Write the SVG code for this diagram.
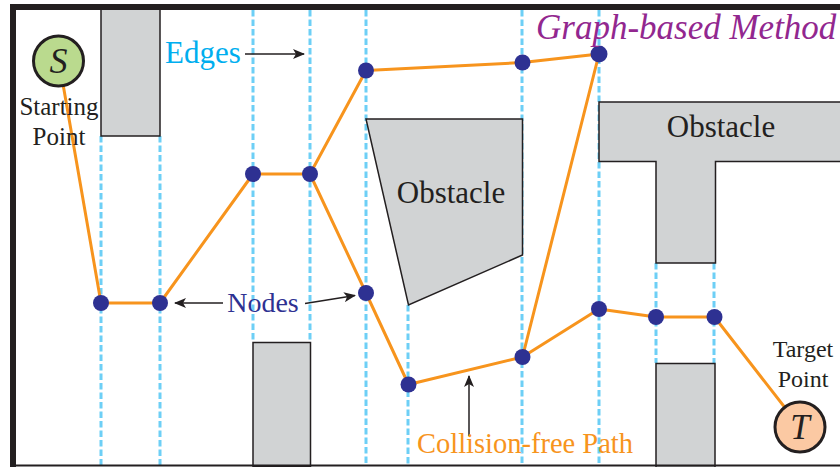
<svg xmlns="http://www.w3.org/2000/svg" width="840" height="467" viewBox="0 0 840 467">
<style>
.grid{stroke:#6dcff6;stroke-width:3;stroke-dasharray:6.5 3;fill:none}
.obs{fill:#d1d3d4;stroke:#231f20;stroke-width:1.5}
.path{stroke:#f7941d;stroke-width:3;fill:none;stroke-linejoin:round}
.node{fill:#2e3192}
.arr{stroke:#231f20;stroke-width:1.5;fill:none}
.serif{font-family:"Liberation Serif","Times New Roman",serif}
.lbl{font-family:"Liberation Serif","Times New Roman",serif;fill:#231f20}
</style>
<defs>
<marker id="ah" viewBox="0 0 12 10" refX="11" refY="5" markerWidth="12" markerHeight="10" markerUnits="userSpaceOnUse" orient="auto">
<path d="M0,0 L12,5 L0,10 L3,5 Z" fill="#231f20"/>
</marker>
</defs>
<rect width="840" height="467" fill="#fff"/>
<g id="grid-lines">
<line class="grid" x1="101" y1="136" x2="101" y2="465"/>
<line class="grid" x1="160" y1="136" x2="160" y2="465"/>
<line class="grid" x1="253" y1="10" x2="253" y2="342"/>
<line class="grid" x1="310" y1="10" x2="310" y2="342"/>
<line class="grid" x1="366" y1="10" x2="366" y2="465"/>
<line class="grid" x1="408" y1="305" x2="408" y2="465"/>
<line class="grid" x1="522" y1="10" x2="522" y2="465"/>
<line class="grid" x1="599" y1="10" x2="599" y2="465"/>
<line class="grid" x1="656" y1="263" x2="656" y2="363"/>
<line class="grid" x1="714" y1="263" x2="714" y2="363"/>
</g>
<g id="obstacle-1"><rect class="obs" x="101" y="8" width="59" height="128"/></g>
<g id="obstacle-2"><rect class="obs" x="253" y="342.5" width="57.5" height="124"/></g>
<g id="obstacle-3">
<polygon class="obs" points="366,119 522.5,119 522.5,255 408.5,305"/>
<text class="lbl" x="451" y="203" font-size="31" text-anchor="middle">Obstacle</text>
</g>
<g id="obstacle-4">
<polygon class="obs" points="599,102 845,102 845,161.5 715.5,161.5 715.5,263 656,263 656,161.5 599,161.5"/>
<text class="lbl" x="721" y="137" font-size="31" text-anchor="middle">Obstacle</text>
</g>
<g id="obstacle-5"><rect class="obs" x="656" y="363.5" width="59" height="104"/></g>
<g id="frame">
<rect x="10" y="4" width="830" height="6" fill="#231f20"/>
<rect x="10" y="4" width="6" height="463" fill="#231f20"/>
<line x1="10" y1="465.5" x2="840" y2="465.5" stroke="#231f20" stroke-width="2"/>
</g>
<g id="connectors">
<polyline class="path" points="59,61 101,303 160,303 253,174 310,174 366,70.5 522.5,62.5 599,54 522.5,357 408.5,384.5 366,293 310,174"/>
<polyline class="path" points="522.5,357 599,309 656,317 714.5,317 800,427"/>
<line class="arr" x1="245" y1="54" x2="304" y2="54" marker-end="url(#ah)"/>
<line class="arr" x1="223" y1="303" x2="175" y2="303" marker-end="url(#ah)"/>
<line class="arr" x1="305" y1="303.5" x2="355" y2="295.5" marker-end="url(#ah)"/>
<line class="arr" x1="469" y1="436" x2="469" y2="376" marker-end="url(#ah)"/>
</g>
<g id="nodes">
<circle class="node" cx="101" cy="303" r="8"/>
<circle class="node" cx="160" cy="303" r="8"/>
<circle class="node" cx="253" cy="174" r="8"/>
<circle class="node" cx="310" cy="174" r="8"/>
<circle class="node" cx="366" cy="70.5" r="8"/>
<circle class="node" cx="522.5" cy="62.5" r="8"/>
<circle class="node" cx="599" cy="54" r="8.5"/>
<circle class="node" cx="366" cy="293" r="8"/>
<circle class="node" cx="408.5" cy="384.5" r="8"/>
<circle class="node" cx="522.5" cy="357" r="8"/>
<circle class="node" cx="599" cy="309" r="8"/>
<circle class="node" cx="656" cy="317" r="8"/>
<circle class="node" cx="714.5" cy="317" r="8"/>
</g>
<g id="start">
<circle cx="58.5" cy="61" r="25" fill="#bada8e" stroke="#231f20" stroke-width="3"/>
<text class="lbl" x="58.5" y="73" font-size="36" font-style="italic" text-anchor="middle">S</text>
<text class="lbl" x="59" y="115" font-size="25" text-anchor="middle">Starting</text>
<text class="lbl" x="59" y="145" font-size="25" text-anchor="middle">Point</text>
</g>
<g id="target">
<circle cx="800" cy="427" r="25" fill="#fbc9a3" stroke="#231f20" stroke-width="3"/>
<text class="lbl" x="800" y="439" font-size="35" font-style="italic" text-anchor="middle">T</text>
<text class="lbl" x="803" y="357" font-size="24" text-anchor="middle">Target</text>
<text class="lbl" x="803" y="387" font-size="24" text-anchor="middle">Point</text>
</g>
<g id="labels">
<text class="serif" x="165" y="63" font-size="31" fill="#00aeef">Edges</text>
<text class="serif" x="263" y="312" font-size="28" fill="#2e3192" text-anchor="middle">Nodes</text>
<text class="serif" x="525" y="453" font-size="28.5" fill="#f7941d" text-anchor="middle">Collision-free Path</text>
<text class="serif" x="536" y="39" font-size="35" font-style="italic" fill="#92278f">Graph-based Method</text>
</g>
</svg>
